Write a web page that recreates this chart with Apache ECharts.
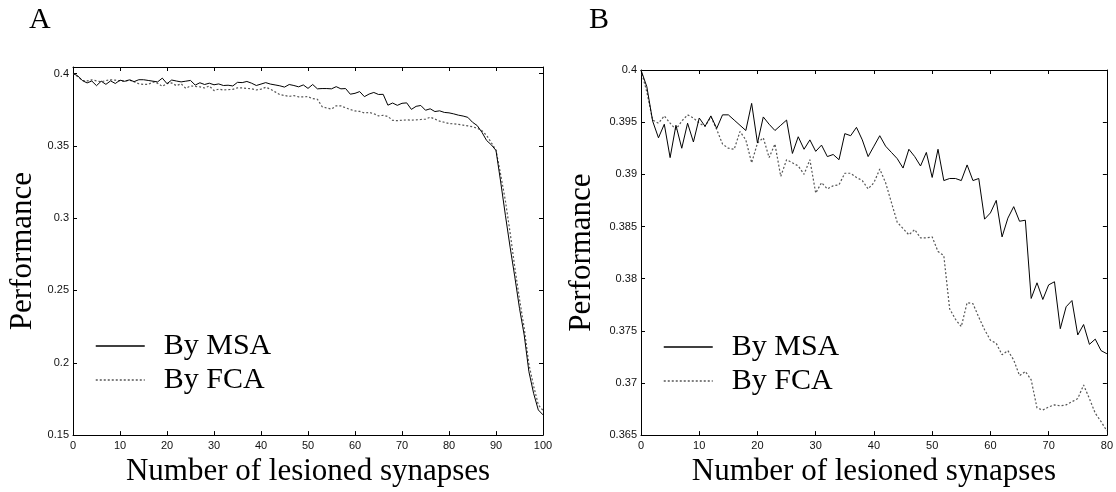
<!DOCTYPE html>
<html>
<head>
<meta charset="utf-8">
<script src="https://cdn.jsdelivr.net/npm/echarts@6/dist/echarts.min.js"></script>
<style>
  html, body { margin: 0; padding: 0; background: #fff; }
  #chart { width: 1116px; height: 492px; }
</style>
</head>
<body>
<div id="chart"></div>
<script>
// performance after removing synapses, 0..100 lesioned
const msaPerf = [
  0.4000, 0.3984, 0.3951, 0.3935, 0.3948, 0.3916, 0.3947, 0.3925, 0.3949, 0.3931,
  0.3954, 0.3946, 0.3956, 0.3944, 0.3957, 0.3957, 0.3952, 0.3947, 0.3942, 0.3968,
  0.3930, 0.3955, 0.3948, 0.3942, 0.3947, 0.3952, 0.3920, 0.3936, 0.3924, 0.3933,
  0.3922, 0.3928, 0.3917, 0.3919, 0.3914, 0.3939, 0.3937, 0.3945, 0.3933, 0.3917,
  0.3927, 0.3937, 0.3927, 0.3921, 0.3915, 0.3906, 0.3924, 0.3917, 0.3908, 0.3921,
  0.3897, 0.3924, 0.3894, 0.3896, 0.3896, 0.3894, 0.3909, 0.3894, 0.3896, 0.3857,
  0.3863, 0.3875, 0.3840, 0.3858, 0.3869, 0.3855, 0.3856, 0.3781, 0.3796, 0.3780,
  0.3794, 0.3797, 0.3752, 0.3773, 0.3779, 0.3746, 0.3756, 0.3737, 0.3742, 0.3731,
  0.3728, 0.3721, 0.3712, 0.3706, 0.3697, 0.3663, 0.3640, 0.3594, 0.3537, 0.3507,
  0.3468, 0.3250, 0.3020, 0.2800, 0.2594, 0.2376, 0.2192, 0.1939, 0.1789, 0.1674,
  0.1640
];
const fcaPerf = [
  0.4000, 0.3979, 0.3952, 0.3949, 0.3956, 0.3949, 0.3943, 0.3951, 0.3957, 0.3954,
  0.3949, 0.3946, 0.3955, 0.3943, 0.3929, 0.3925, 0.3924, 0.3941, 0.3933, 0.3911,
  0.3930, 0.3935, 0.3916, 0.3929, 0.3898, 0.3914, 0.3911, 0.3908, 0.3900, 0.3914,
  0.3882, 0.3892, 0.3886, 0.3889, 0.3890, 0.3901, 0.3901, 0.3897, 0.3894, 0.3886,
  0.3892, 0.3905, 0.3892, 0.3873, 0.3854, 0.3848, 0.3842, 0.3847, 0.3839, 0.3839,
  0.3840, 0.3826, 0.3822, 0.3771, 0.3761, 0.3754, 0.3777, 0.3776, 0.3763, 0.3751,
  0.3741, 0.3738, 0.3727, 0.3731, 0.3722, 0.3707, 0.3711, 0.3703, 0.3676, 0.3674,
  0.3677, 0.3679, 0.3678, 0.3679, 0.3682, 0.3685, 0.3698, 0.3685, 0.3671, 0.3663,
  0.3654, 0.3652, 0.3648, 0.3643, 0.3638, 0.3632, 0.3622, 0.3605, 0.3572, 0.3522,
  0.3470, 0.3300, 0.3120, 0.2900, 0.2660, 0.2440, 0.2240, 0.1990, 0.1840, 0.1710,
  0.1670
];
const seriesNames = ["By MSA", "By FCA"];
const panelLabels = ["A", "B"];
const xTitle = "Number of lesioned synapses";
const yTitle = "Performance";
// panel A: 0..100, panel B zooms in on 0..80
const xMaxA = 100, xMaxB = 80, xStep = 10;
const yMinA = 0.15, yMaxA = 0.4045, yStepA = 0.05;
const yMinB = 0.365, yMaxB = 0.4, yStepB = 0.005;

function toPoints(arr, n) {
  return arr.slice(0, n + 1).map((v, i) => [i, v]);
}

const serif = "'Liberation Serif', 'Times New Roman', serif";
const sans = "'Liberation Sans', Arial, sans-serif";

const onStep = (step) => (v) => {
  const k = v / step;
  return Math.abs(k - Math.round(k)) < 1e-6 ? String(+v.toFixed(4)) : "";
};

function xAx(grid, max, bottom) {
  return {
    type: "value", gridIndex: grid, min: 0, max: max, interval: xStep,
    position: bottom ? "bottom" : "top",
    name: bottom ? xTitle : "", nameLocation: "middle", nameGap: 18,
    nameTextStyle: { fontFamily: serif, fontSize: 31, color: "#000" },
    axisLine: { onZero: false, lineStyle: { color: "#000", width: 1 } },
    axisTick: { show: true, inside: true, length: 4, lineStyle: { color: "#000" } },
    axisLabel: { show: bottom, margin: 5, fontFamily: sans, fontSize: 11, color: "#111" },
    splitLine: { show: false }
  };
}
function yAx(grid, min, max, step, left, gap) {
  return {
    type: "value", gridIndex: grid, min: min, max: max, interval: step,
    position: left ? "left" : "right",
    name: left ? yTitle : "", nameLocation: "middle", nameGap: gap,
    nameTextStyle: { fontFamily: serif, fontSize: 31, color: "#000" },
    axisLine: { onZero: false, lineStyle: { color: "#000", width: 1 } },
    axisTick: { show: true, inside: true, length: 4, lineStyle: { color: "#000" } },
    axisLabel: {
      show: left, margin: 4, fontFamily: sans, fontSize: 11, color: "#111",
      formatter: onStep(step)
    },
    splitLine: { show: false }
  };
}

const solid = { color: "#000", width: 1 };
const dotted = { color: "#555", width: 1.2, type: [2, 2] };

function legendAt(left, top) {
  return {
    left: left, top: top, padding: 0, orient: "vertical",
    itemWidth: 49, itemHeight: 14, itemGap: 4,
    data: seriesNames,
    itemStyle: { opacity: 0 },
    lineStyle: { width: 1.5 },
    textStyle: { fontFamily: serif, fontSize: 30, color: "#000", padding: [0, 0, 0, 14] },
    selectedMode: false
  };
}

const chart = echarts.init(document.getElementById("chart"), null, { renderer: "canvas" });
chart.setOption({
  animation: false,
  backgroundColor: "#fff",
  title: [
    { text: panelLabels[0], left: 29, top: 5, padding: 0,
      textStyle: { fontFamily: serif, fontSize: 30, fontWeight: "normal", color: "#000" } },
    { text: panelLabels[1], left: 589, top: 5, padding: 0,
      textStyle: { fontFamily: serif, fontSize: 30, fontWeight: "normal", color: "#000" } }
  ],
  grid: [
    { left: 73, top: 67, width: 470, height: 370 },
    { left: 641, top: 70, width: 466, height: 367 }
  ],
  legend: [legendAt(95, 331), legendAt(663, 332)],
  xAxis: [xAx(0, xMaxA, true), xAx(0, xMaxA, false), xAx(1, xMaxB, true), xAx(1, xMaxB, false)],
  yAxis: [
    yAx(0, yMinA, yMaxA, yStepA, true, 35), yAx(0, yMinA, yMaxA, yStepA, false, 0),
    yAx(1, yMinB, yMaxB, yStepB, true, 44), yAx(1, yMinB, yMaxB, yStepB, false, 0)
  ],
  series: [
    { name: seriesNames[0], type: "line", xAxisIndex: 0, yAxisIndex: 0, symbol: "none",
      lineStyle: solid, itemStyle: { color: "#000" }, data: toPoints(msaPerf, xMaxA), z: 3 },
    { name: seriesNames[1], type: "line", xAxisIndex: 0, yAxisIndex: 0, symbol: "none",
      lineStyle: dotted, itemStyle: { color: "#555" }, data: toPoints(fcaPerf, xMaxA), z: 2 },
    { name: seriesNames[0], type: "line", xAxisIndex: 2, yAxisIndex: 2, symbol: "none",
      lineStyle: solid, itemStyle: { color: "#000" }, data: toPoints(msaPerf, xMaxB), z: 3 },
    { name: seriesNames[1], type: "line", xAxisIndex: 2, yAxisIndex: 2, symbol: "none",
      lineStyle: dotted, itemStyle: { color: "#555" }, data: toPoints(fcaPerf, xMaxB), z: 2 }
  ]
});
</script>
</body>
</html>
